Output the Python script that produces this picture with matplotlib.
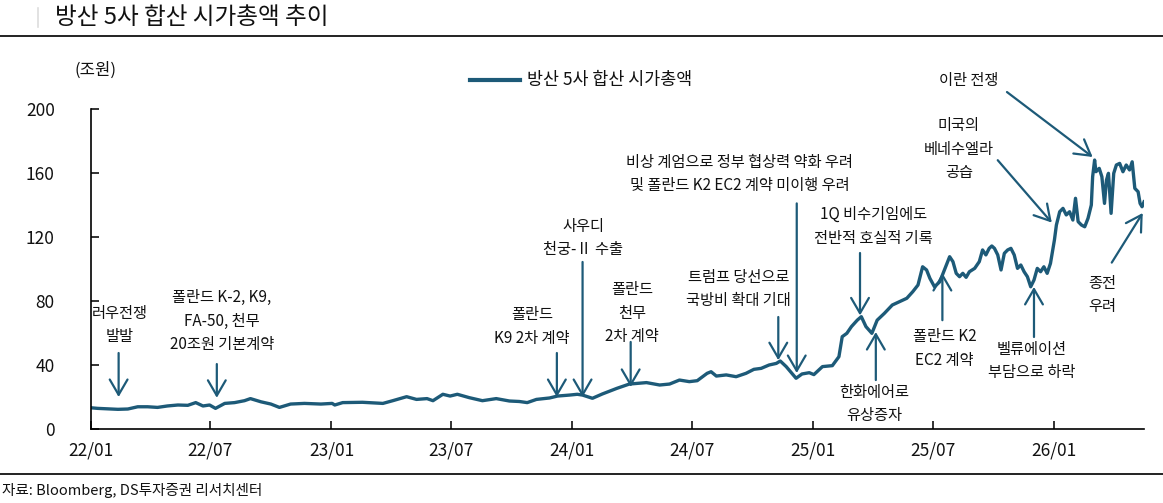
import matplotlib
matplotlib.use("Agg")
import matplotlib.pyplot as plt
import matplotlib.dates as mdates
import pandas as pd

plt.rcParams['font.family'] = ['Noto Sans CJK KR', 'DejaVu Sans']

# 방산 5사 합산 시가총액 (조원)
dates = [
    '2022-01-03', '2022-01-11', '2022-01-26', '2022-02-11', '2022-02-26', '2022-03-13',
    '2022-03-28', '2022-04-12', '2022-04-27', '2022-05-13', '2022-05-28', '2022-06-09',
    '2022-06-20', '2022-06-30', '2022-07-09', '2022-07-23', '2022-08-07', '2022-08-22',
    '2022-08-31', '2022-09-16', '2022-10-01', '2022-10-14', '2022-10-31', '2022-11-21',
    '2022-12-16', '2023-01-02', '2023-01-06', '2023-01-18', '2023-02-17', '2023-03-20',
    '2023-04-04', '2023-04-25', '2023-05-10', '2023-05-26', '2023-06-04', '2023-06-19',
    '2023-06-30', '2023-07-11', '2023-07-29', '2023-08-18', '2023-09-08', '2023-09-28',
    '2023-10-13', '2023-10-25', '2023-11-08', '2023-11-28', '2023-12-10', '2023-12-28',
    '2024-01-09', '2024-01-17', '2024-02-01', '2024-02-16', '2024-03-09', '2024-03-28',
    '2024-04-23', '2024-05-13', '2024-05-28', '2024-06-12', '2024-06-27', '2024-07-09',
    '2024-07-24', '2024-07-30', '2024-08-07', '2024-08-22', '2024-09-06', '2024-09-21',
    '2024-10-03', '2024-10-14', '2024-10-26', '2024-11-06', '2024-11-12', '2024-11-21',
    '2024-12-06', '2024-12-15', '2024-12-26', '2025-01-02', '2025-01-15', '2025-01-30',
    '2025-02-09', '2025-02-14', '2025-02-21', '2025-02-28', '2025-03-09', '2025-03-15',
    '2025-03-22', '2025-03-31', '2025-04-08', '2025-04-19', '2025-05-01', '2025-05-12',
    '2025-05-23', '2025-06-01', '2025-06-09', '2025-06-16', '2025-06-22', '2025-06-27',
    '2025-07-04', '2025-07-12', '2025-07-19', '2025-07-27', '2025-08-01', '2025-08-06',
    '2025-08-11', '2025-08-16', '2025-08-21', '2025-08-26', '2025-09-03', '2025-09-10',
    '2025-09-15', '2025-09-20', '2025-09-25', '2025-09-29', '2025-10-03', '2025-10-08',
    '2025-10-13', '2025-10-18', '2025-10-23', '2025-10-28', '2025-11-02', '2025-11-07',
    '2025-11-12', '2025-11-17', '2025-11-22', '2025-11-27', '2025-12-02', '2025-12-07',
    '2025-12-12', '2025-12-17', '2025-12-22', '2025-12-27', '2026-01-02', '2026-01-05',
    '2026-01-10', '2026-01-15', '2026-01-20', '2026-01-25', '2026-01-30', '2026-02-03',
    '2026-02-07', '2026-02-12', '2026-02-17', '2026-02-22', '2026-02-27', '2026-03-01',
    '2026-03-04', '2026-03-06', '2026-03-11', '2026-03-15', '2026-03-19', '2026-03-22',
    '2026-03-25', '2026-03-29', '2026-04-02', '2026-04-06', '2026-04-11', '2026-04-16',
    '2026-04-21', '2026-04-26', '2026-04-30', '2026-05-04', '2026-05-09', '2026-05-12',
    '2026-05-15', '2026-05-18',
]
values = [
    13.2, 12.9, 12.6, 12.3, 12.5, 13.9,
    13.9, 13.5, 14.4, 15.0, 14.8, 16.5,
    14.4, 15.0, 12.9, 16.0, 16.5, 17.7,
    19.0, 17.0, 15.6, 13.5, 15.6, 16.0,
    15.6, 16.0, 15.0, 16.5, 16.7, 16.0,
    17.7, 20.2, 18.5, 19.0, 17.7, 21.7,
    20.6, 21.7, 19.6, 17.7, 19.0, 17.5,
    17.2, 16.5, 18.5, 19.4, 20.6, 21.2,
    21.7, 21.2, 19.2, 21.9, 25.4, 28.1,
    29.0, 27.5, 28.1, 30.6, 29.6, 30.2,
    34.8, 35.8, 33.1, 33.8, 32.7, 34.8,
    37.3, 37.9, 40.0, 41.0, 42.5, 39.0,
    31.7, 34.4, 35.2, 34.0, 39.0, 39.6,
    45.2, 57.7, 59.8, 64.0, 68.1, 70.2,
    64.0, 59.8, 68.0, 72.3, 77.5, 79.6,
    81.7, 85.8, 90.0, 101.4, 99.4, 94.2,
    88.9, 92.0, 99.4, 107.7, 104.6, 97.3,
    95.2, 97.3, 94.8, 98.3, 100.4, 104.6,
    111.9, 108.8, 112.9, 114.4, 112.9, 108.8,
    99.4, 109.8, 111.9, 112.9, 108.8, 100.4,
    102.5, 98.3, 95.2, 88.9, 93.1, 100.4,
    98.3, 101.4, 97.3, 103.5, 118.1, 127.5,
    135.8, 137.9, 133.8, 135.8, 130.6, 144.2,
    129.6, 127.5, 126.4, 131.7, 140.0, 157.7,
    168.1, 160.8, 162.9, 157.7, 141.0, 155.6,
    159.8, 134.8, 159.8, 165.0, 166.0, 160.8,
    165.0, 161.9, 167.0, 150.4, 148.3, 141.0,
    138.9, 142.0,
]

# annotations: text, text centre (date, value), arrow tail and tip (date, value)
notes = [
    ('러우전쟁\n발발', ('2022-02-14', 65), ('2022-02-12', 47.5), ('2022-02-12', 20)),
    ('폴란드 K-2, K9,\nFA-50, 천무\n20조원 기본계약', ('2022-07-19', 67.5), ('2022-07-11', 40.6), ('2022-07-11', 19.5)),
    ('폴란드\nK9 2차 계약', ('2023-11-01', 64), ('2023-12-09', 47.5), ('2023-12-09', 20)),
    ('사우디\n천궁-Ⅱ 수출', ('2024-01-18', 119.4), ('2024-01-17', 104.4), ('2024-01-17', 20)),
    ('폴란드\n천무\n2차 계약', ('2024-04-01', 72.5), ('2024-03-30', 54.4), ('2024-03-30', 26.3)),
    ('트럼프 당선으로\n국방비 확대 기대', ('2024-09-10', 87.5), ('2024-11-09', 70), ('2024-11-09', 43)),
    ('비상 계엄으로 정부 협상력 약화 우려\n및 폴란드 K2 EC2 계약 미이행 우려', ('2024-09-11', 159.4), ('2024-12-07', 141), ('2024-12-07', 35)),
    ('1Q 비수기임에도\n전반적 호실적 기록', ('2025-04-03', 126.6), ('2025-03-13', 110), ('2025-03-13', 71)),
    ('한화에어로\n유상증자', ('2025-04-03', 15.6), ('2025-04-06', 30.6), ('2025-04-06', 60.6)),
    ('폴란드 K2\nEC2 계약', ('2025-07-19', 50.3), ('2025-07-16', 68), ('2025-07-16', 97.5)),
    ('벨류에이션\n부담으로 하락', ('2025-11-29', 42.5), ('2025-12-02', 57.5), ('2025-12-02', 88.8)),
    ('미국의\n베네수엘라\n공습', ('2025-08-10', 175), ('2025-10-08', 168), ('2025-12-29', 129)),
    ('이란 전쟁', ('2025-08-25', 218), ('2025-10-22', 210.6), ('2026-03-01', 170)),
    ('종전\n우려', ('2026-03-16', 83.8), ('2026-03-30', 104), ('2026-05-16', 135)),
]

line_color = '#1d5a78'
series = pd.Series(values, index=pd.to_datetime(dates))

fig = plt.figure(figsize=(11.63, 5.03), dpi=100)
ax = fig.add_axes([0.0782, 0.1471, 0.9055, 0.6362])

ax.plot(series.index, series.values, color=line_color, lw=2.4, solid_joinstyle='round')

ax.set_ylim(0, 200)
ax.set_yticks([0, 40, 80, 120, 160, 200])
ax.set_xlim(pd.Timestamp('2022-01-01'), pd.Timestamp('2026-05-18'))
ax.xaxis.set_major_locator(mdates.MonthLocator(bymonth=[1, 7]))
ax.xaxis.set_major_formatter(mdates.DateFormatter('%y/%m'))

for side in ['top', 'right']:
    ax.spines[side].set_visible(False)
for side in ['left', 'bottom']:
    ax.spines[side].set_linewidth(1.2)
ax.tick_params(direction='in', length=6, width=1.2, labelsize=12.5, colors='#111111')
ax.tick_params(axis='y', pad=26)
ax.tick_params(axis='x', pad=9)

for text, tpos, tail, tip in notes:
    ax.text(pd.Timestamp(tpos[0]), tpos[1], text, ha='center', va='center',
            fontsize=11, linespacing=1.5, color='#111111')
    ax.annotate('', xy=(pd.Timestamp(tip[0]), tip[1]),
                xytext=(pd.Timestamp(tail[0]), tail[1]),
                arrowprops=dict(arrowstyle='->,head_length=0.55,head_width=0.32',
                                color=line_color, lw=1.6, mutation_scale=20,
                                shrinkA=0, shrinkB=0),
                annotation_clip=False)

# legend
fig.add_artist(plt.Line2D([470 / 1163, 520 / 1163], [1 - 80 / 503] * 2,
                          color=line_color, lw=3))
fig.text(527 / 1163, 1 - 80 / 503, '방산 5사 합산 시가총액', fontsize=12.5,
         va='center', ha='left', color='#111111')

# unit
fig.text(75 / 1163, 1 - 70 / 503, '(조원)', fontsize=12, va='center', ha='left',
         color='#111111')

# title block
fig.text(55 / 1163, 1 - 17 / 503, '방산 5사 합산 시가총액 추이', fontsize=17,
         va='center', ha='left', color='#111111')
fig.add_artist(plt.Line2D([38 / 1163] * 2, [1 - 8 / 503, 1 - 27 / 503],
                          color='#dddddd', lw=1.2))
fig.add_artist(plt.Line2D([0, 1], [1 - 36 / 503] * 2, color='#222222', lw=1.4))
fig.add_artist(plt.Line2D([0, 1], [1 - 474 / 503] * 2, color='#222222', lw=1.4))
fig.text(0.002, 1 - 490 / 503, '자료: Bloomberg, DS투자증권 리서치센터', fontsize=10.5,
         va='center', ha='left', color='#111111')

fig.savefig('out.png', dpi=100)
